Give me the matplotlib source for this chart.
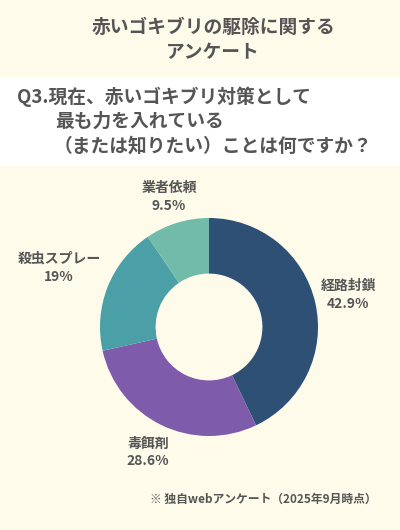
import matplotlib
matplotlib.use('Agg')
import numpy as np
from matplotlib import pyplot as plt
from matplotlib.patches import Rectangle

plt.rcParams['font.family'] = ['Noto Sans CJK JP', 'DejaVu Sans']

W, H = 400, 530
BG = '#fffbeb'
TEXT = '#555555'

title = '赤いゴキブリの駆除に関する\nアンケート'
question = ['Q3.現在、赤いゴキブリ対策として', '最も力を入れている', '（または知りたい）ことは何ですか？']
labels = ['経路封鎖', '毒餌剤', '殺虫スプレー', '業者依頼']
values = [42.9, 28.6, 19, 9.5]
value_texts = ['42.9%', '28.6%', '19%', '9.5%']
colors = ['#2e5075', '#7e5bab', '#4ba0a8', '#72baa9']
label_dist = [1.31, 1.28, 1.48, 1.25]
note = '※ 独自webアンケート（2025年9月時点）'

fig = plt.figure(figsize=(W / 100, H / 100), dpi=100)
fig.patch.set_facecolor(BG)
ax = fig.add_axes([0, 0, 1, 1])

def y(px):
    return H - px

# white question band
ax.add_patch(Rectangle((0, y(166)), W, 89, facecolor='white', edgecolor='none'))

ax.text(213, y(40), title, ha='center', va='center', fontsize=13.5, color=TEXT,
        fontweight='bold', linespacing=1.4)

ax.text(17, y(97), question[0], ha='left', va='center', fontsize=13.5, color=TEXT, fontweight='bold')
ax.text(55, y(121), question[1], ha='left', va='center', fontsize=13.5, color=TEXT, fontweight='bold')
ax.text(54, y(146), question[2], ha='left', va='center', fontsize=13.5, color=TEXT, fontweight='bold')

cx, cy, r = 209, y(327), 109
wedges, _ = ax.pie(values, colors=colors, startangle=90, counterclock=False,
                   center=(cx, cy), radius=r, frame=True,
                   wedgeprops=dict(width=r * 0.51, edgecolor='none'))
ax.set_xlim(0, W)
ax.set_ylim(0, H)
ax.set_aspect('equal')
ax.axis('off')

for w, lab, vt, d in zip(wedges, labels, value_texts, label_dist):
    ang = np.deg2rad((w.theta1 + w.theta2) / 2)
    lx = cx + r * d * np.cos(ang)
    ly = cy + r * d * np.sin(ang)
    ax.text(lx, ly + 9, lab, ha='center', va='center', fontsize=10, color=TEXT, fontweight='bold')
    ax.text(lx, ly - 9, vt, ha='center', va='center', fontsize=10, color=TEXT, fontweight='bold')

ax.text(377, y(499), note, ha='right', va='center', fontsize=8.5, color=TEXT, fontweight='bold')

fig.savefig('out.png', dpi=100, facecolor=BG)
